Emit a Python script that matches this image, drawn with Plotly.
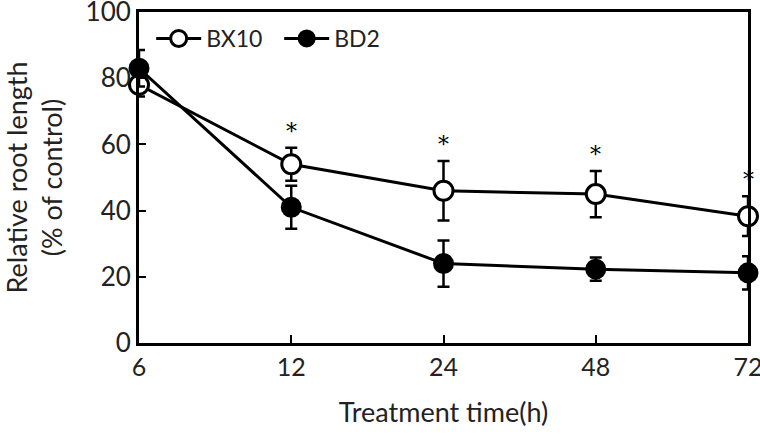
import plotly.graph_objects as go

times = ["6", "12", "24", "48", "72"]
bx10 = [78.0, 54.0, 46.0, 45.0, 38.3]
bx10_err = [3.5, 5.0, 9.0, 7.0, 6.0]
bd2 = [83.0, 41.0, 24.0, 22.3, 21.2]
bd2_err = [5.5, 6.5, 7.0, 3.5, 5.0]
signif = ["", "*", "*", "*", "*"]

FONT = "Lato"
TXT = "#222"
fig = go.Figure()
fig.add_trace(go.Scatter(
    x=times, y=bx10, name="BX10", mode="lines+markers",
    line=dict(color="black", width=3),
    marker=dict(symbol="circle", size=19, color="white", line=dict(color="black", width=3)),
    error_y=dict(type="data", array=bx10_err, color="black", thickness=2.5, width=6),
    cliponaxis=False,
))
fig.add_trace(go.Scatter(
    x=times, y=bd2, name="BD2", mode="lines+markers",
    line=dict(color="black", width=3),
    marker=dict(symbol="circle", size=19, color="black", line=dict(color="black", width=2)),
    error_y=dict(type="data", array=bd2_err, color="black", thickness=2.5, width=6),
    cliponaxis=False,
))
for i, (v, e, s) in enumerate(zip(bx10, bx10_err, signif)):
    if s:
        fig.add_annotation(x=i, y=v + e, xref="x", yref="y", text=s, showarrow=False,
                           yanchor="bottom", yshift=2,
                           font=dict(family="DejaVu Serif", size=22, color="black"))

fig.update_layout(
    width=760, height=444,
    margin=dict(l=139, r=12, t=12, b=101, autoexpand=False),
    paper_bgcolor="white", plot_bgcolor="white",
    font=dict(family=FONT, size=27, color=TXT),
    showlegend=True,
    legend=dict(orientation="h", x=0.02, y=0.985, xanchor="left", yanchor="top",
                font=dict(family=FONT, size=23, color=TXT), bgcolor="rgba(0,0,0,0)",
                itemwidth=45, entrywidth=68, entrywidthmode="pixels", tracegroupgap=0),
    xaxis=dict(type="category", range=[0, 4], showline=True, linecolor="black", linewidth=3,
               mirror=True, ticks="inside", ticklen=8, tickwidth=1.5, tickcolor="black",
               showgrid=False, zeroline=False, tickfont=dict(size=25), automargin=False,
               title=dict(text="Treatment time(h)", font=dict(size=27), standoff=24)),
    yaxis=dict(range=[0, 100], tickvals=[0, 20, 40, 60, 80, 100], showline=True,
               linecolor="black", linewidth=3, mirror=True, ticks="inside", ticklen=7,
               tickwidth=2, tickcolor="black", showgrid=False, zeroline=False,
               tickfont=dict(size=26), automargin=False, ticklabeloverflow="allow",
               title=dict(text="Relative root length<br>(% of control)", font=dict(size=27), standoff=33)),
)
fig.write_html("out.html", config={"displayModeBar": False},
               post_script="document.body.style.margin='0';document.body.style.overflow='hidden';")
